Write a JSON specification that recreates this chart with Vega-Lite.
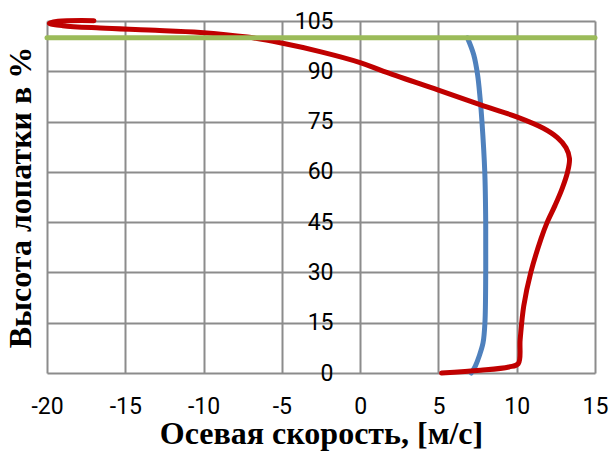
{
  "$schema": "https://vega.github.io/schema/vega-lite/v6.json",
  "width": 548,
  "height": 352,
  "autosize": {"type": "none"},
  "padding": {"left": 47, "top": 21, "right": 14, "bottom": 79},
  "background": "white",
  "config": {"view": {"stroke": null}},
  "data": {"values": [
    {"s": "blue", "o": 1, "x": 7.1, "y": 0},
    {"s": "blue", "o": 2, "x": 7.35, "y": 2},
    {"s": "blue", "o": 3, "x": 7.6, "y": 5},
    {"s": "blue", "o": 4, "x": 7.85, "y": 9},
    {"s": "blue", "o": 5, "x": 7.97, "y": 15},
    {"s": "blue", "o": 6, "x": 8.02, "y": 30},
    {"s": "blue", "o": 7, "x": 8.02, "y": 45},
    {"s": "blue", "o": 8, "x": 7.96, "y": 60},
    {"s": "blue", "o": 9, "x": 7.78, "y": 75},
    {"s": "blue", "o": 10, "x": 7.66, "y": 82},
    {"s": "blue", "o": 11, "x": 7.5, "y": 89},
    {"s": "blue", "o": 12, "x": 7.25, "y": 95},
    {"s": "blue", "o": 13, "x": 6.85, "y": 100},
    {"s": "red", "o": 1, "x": 5.2, "y": 0},
    {"s": "red", "o": 2, "x": 7.7, "y": 0.8},
    {"s": "red", "o": 3, "x": 9.5, "y": 1.8},
    {"s": "red", "o": 4, "x": 10.1, "y": 2.8},
    {"s": "red", "o": 5, "x": 10.22, "y": 10},
    {"s": "red", "o": 6, "x": 10.45, "y": 20},
    {"s": "red", "o": 7, "x": 10.9, "y": 30},
    {"s": "red", "o": 8, "x": 11.55, "y": 40},
    {"s": "red", "o": 9, "x": 11.95, "y": 45},
    {"s": "red", "o": 10, "x": 12.45, "y": 50},
    {"s": "red", "o": 11, "x": 12.9, "y": 55},
    {"s": "red", "o": 12, "x": 13.25, "y": 60},
    {"s": "red", "o": 13, "x": 13.37, "y": 64},
    {"s": "red", "o": 14, "x": 13.15, "y": 67.2},
    {"s": "red", "o": 15, "x": 12.6, "y": 70.2},
    {"s": "red", "o": 16, "x": 11.7, "y": 73},
    {"s": "red", "o": 17, "x": 10.0, "y": 76.4},
    {"s": "red", "o": 18, "x": 7.7, "y": 80},
    {"s": "red", "o": 19, "x": 5.0, "y": 84.4},
    {"s": "red", "o": 20, "x": 1.5, "y": 90},
    {"s": "red", "o": 21, "x": 0, "y": 92.6},
    {"s": "red", "o": 22, "x": -2.5, "y": 95.8},
    {"s": "red", "o": 23, "x": -5.1, "y": 98.5},
    {"s": "red", "o": 24, "x": -7.2, "y": 100.2},
    {"s": "red", "o": 25, "x": -10.2, "y": 101.6},
    {"s": "red", "o": 26, "x": -13.5, "y": 102.3},
    {"s": "red", "o": 27, "x": -16.6, "y": 102.9},
    {"s": "red", "o": 28, "x": -19, "y": 103.6},
    {"s": "red", "o": 29, "x": -19.85, "y": 104.3},
    {"s": "red", "o": 30, "x": -19.3, "y": 104.9},
    {"s": "red", "o": 31, "x": -17, "y": 105.1},
    {"s": "green", "o": 1, "x": -20, "y": 100},
    {"s": "green", "o": 2, "x": 15, "y": 100}
  ]},
  "layer": [
    {
      "mark": {"type": "line", "strokeWidth": 5, "strokeCap": "round", "strokeJoin": "round", "clip": false, "interpolate": "catmull-rom"},
      "encoding": {
        "x": {"field": "x", "type": "quantitative",
          "scale": {"domain": [-20, 15], "nice": false, "zero": false},
          "axis": {"values": [-20, -15, -10, -5, 0, 5, 10, 15], "grid": true, "gridColor": "#8c8c8c", "gridWidth": 2, "gridOpacity": 1,
            "domain": false, "ticks": false, "tickSize": 0, "labelPadding": 22, "labelFlush": false,
            "labelFont": "Roboto", "labelFontSize": 23, "labelColor": "#000000",
            "labelExpr": "datum.value < 0 ? '-' + abs(datum.value) : '' + datum.value",
            "title": "Осевая скорость, [м/с]", "titleFont": "Liberation Serif", "titleFontSize": 32, "titleFontWeight": "bold", "titleColor": "#000000", "titlePadding": 0}},
        "y": {"field": "y", "type": "quantitative",
          "scale": {"domain": [0, 105], "nice": false, "zero": false},
          "axis": {"values": [0, 15, 30, 45, 60, 75, 90, 105], "grid": true, "gridColor": "#8c8c8c", "gridWidth": 2, "gridOpacity": 1,
            "domain": false, "ticks": false, "tickSize": 0, "labels": false, "orient": "left",
            "title": "Высота лопатки в   %", "titleFont": "Liberation Serif", "titleFontSize": 32, "titleFontWeight": "bold", "titleColor": "#000000", "titlePadding": 10}},
        "color": {"field": "s", "type": "nominal", "scale": {"domain": ["blue", "red", "green"], "range": ["#4F81BD", "#C00000", "#9BBB59"]}, "legend": null},
        "order": {"field": "o", "type": "quantitative"}
      }
    },
    {
      "mark": {"type": "line", "opacity": 0},
      "encoding": {
        "x": {"field": "x", "type": "quantitative"},
        "y": {"field": "y", "type": "quantitative",
          "axis": {"values": [0, 15, 30, 45, 60, 75, 90, 105], "grid": false, "orient": "left", "offset": -313,
            "domain": false, "ticks": false, "tickSize": 0, "labelPadding": 27,
            "labelFont": "Roboto", "labelFontSize": 23, "labelColor": "#000000", "title": null}},
        "detail": {"field": "s", "type": "nominal"},
        "order": {"field": "o", "type": "quantitative"}
      }
    }
  ],
  "resolve": {"axis": {"y": "independent"}}
}
